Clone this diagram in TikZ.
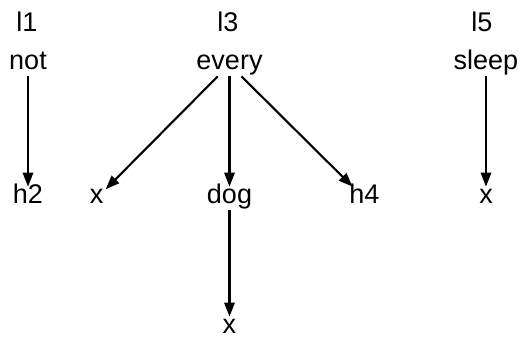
\documentclass[tikz,border=0pt]{standalone}
\usepackage{fontspec}
\setmainfont{Liberation Sans}
\usetikzlibrary{arrows.meta}

\begin{document}
\begin{tikzpicture}[x=0.5pt, y=0.5pt,
  word/.style={anchor=base, inner sep=1pt, text height=0.75em, text depth=0.2em,
               font=\fontsize{13.5}{16}\selectfont},
  arr/.style={-{Triangle[length=7pt,width=5.2pt]}, line width=1.05pt}
]
  \useasboundingbox (0,0) rectangle (521,337);

  % top labels
  \node[word] (l1) at (27,305) {l1};
  \node[word] (l3) at (228,305) {l3};
  \node[word] (l5) at (482,305) {l5};

  \node[word] (not)   at (28,267)    {not};
  \node[word] (every) at (229.5,267) {every};
  \node[word] (sleep) at (486,267)   {sleep};

  \node[word] (h2)  at (28,133)    {h2};
  \node[word] (x1)  at (96.5,133)  {x};
  \node[word] (dog) at (229.5,133) {dog};
  \node[word] (h4)  at (364.5,133) {h4};
  \node[word] (x2)  at (486,133)   {x};

  \node[word] (x3) at (229.5,3) {x};

  \draw[arr] (not) -- (h2);
  \draw[arr] (every) -- (x1);
  \draw[arr] (every) -- (dog);
  \draw[arr] (every) -- (h4);
  \draw[arr] (dog) -- (x3);
  \draw[arr] (sleep) -- (x2);

\end{tikzpicture}
\end{document}
